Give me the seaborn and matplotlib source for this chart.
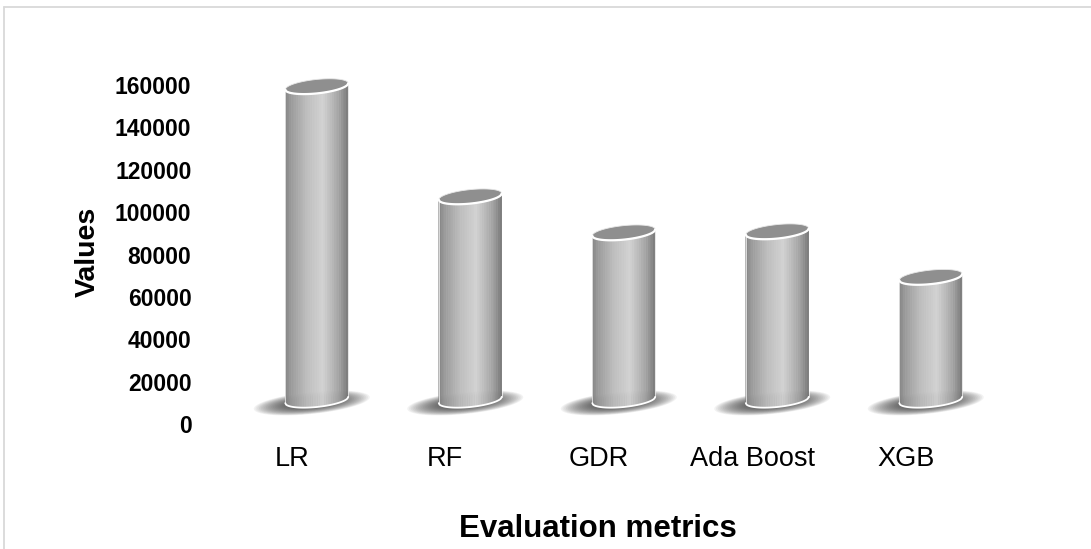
import numpy as np
import pandas as pd
import matplotlib
matplotlib.use("Agg")
import matplotlib.pyplot as plt
import seaborn as sns
from matplotlib.collections import PolyCollection
from matplotlib.patches import Polygon
from matplotlib.lines import Line2D
from matplotlib.transforms import IdentityTransform

# ---- data ----
models = ["LR", "RF", "GDR", "Ada Boost", "XGB"]
values = [148000, 96000, 79000, 79500, 58000]
y_ticks = [0, 20000, 40000, 60000, 80000, 100000, 120000, 140000, 160000]

sns.set_theme(style="white")
plt.rcParams["font.family"] = ["Liberation Sans", "DejaVu Sans"]

W, H, DPI = 1091, 549, 100
fig = plt.figure(figsize=(W / DPI, H / DPI), dpi=DPI)
fig.patch.set_facecolor("white")

# plot area in pixels
ax_left, ax_bottom_px, ax_w, ax_h = 215, 424, 767.5, 339
ax = fig.add_axes([ax_left / W, (H - ax_bottom_px) / H, ax_w / W, ax_h / H])
ax.set_facecolor("white")

df = pd.DataFrame({"model": models, "value": values})
sns.barplot(data=df, x="model", y="value", ax=ax, width=0.41, color="0.7")

ax.set_xlim(-0.5, len(models) - 0.5)
ax.set_ylim(0, 160000)
ax.set_yticks(y_ticks)
ax.set_yticklabels([str(t) for t in y_ticks], fontsize=16.5, fontweight="bold", color="black")
ax.tick_params(axis="y", length=0, pad=17)
ax.tick_params(axis="x", length=0, pad=16, labelsize=19.5, labelcolor="black")
for s in ax.spines.values():
    s.set_visible(False)

ax.set_ylabel("Values", fontsize=20.5, fontweight="bold", color="black")
ax.yaxis.label.set_va("center")
ax.yaxis.set_label_coords((88 - ax_left) / ax_w, (ax_bottom_px - 252) / ax_h)
ax.set_xlabel("Evaluation metrics", fontsize=22.5, fontweight="bold", color="black")
ax.xaxis.label.set_va("center")
ax.xaxis.set_label_coords((598 - ax_left) / ax_w, (ax_bottom_px - 529) / ax_h)

# ---- 3D cylinder rendering of the seaborn bars (oblique depth offset) ----
DX, DY = 25.0, 24.0       # depth offset in pixels
B = 7.0                   # semi-minor axis of the end ellipses (px)
SHEAR = 0.1               # vertical shear giving the tilted ellipse look
ident = IdentityTransform()

stops = [0.0, 0.10, 0.35, 0.60, 0.85, 1.0]
levels = [0.50, 0.60, 0.74, 0.82, 0.64, 0.46]


def arc_y(cx, a, yc, x, upper=False):
    u = np.clip((x - cx) / a, -1, 1)
    sgn = 1 if upper else -1
    return yc + sgn * B * np.sqrt(1 - u ** 2) + SHEAR * a * u


for patch in list(ax.patches):
    x0 = patch.get_x()
    w = patch.get_width()
    h = patch.get_height()
    (px0, py0), (px1, py1) = ax.transData.transform([(x0, 0), (x0 + w, h)])
    patch.set_visible(False)
    px0 += DX; px1 += DX
    yb = py0 + DY
    yt = py1 + DY
    cx = 0.5 * (px0 + px1)
    a = 0.5 * (px1 - px0)

    # soft ground shadow, a stack of translucent ellipses
    t = np.linspace(0, 2 * np.pi, 80)
    for k in range(18):
        f = 1.0 - k * 0.03
        sx = cx - 5 + 58 * f * np.cos(t)
        sy = yb - 3 + 11 * f * np.sin(t) + SHEAR * 58 * f * np.cos(t)
        ax.add_patch(Polygon(np.column_stack([sx, sy]), closed=True,
                             facecolor="#303030", edgecolor="none", alpha=0.06,
                             transform=ident, clip_on=False, zorder=1))

    # body: vertical strips with a horizontal shading profile
    n = 90
    xs = np.linspace(px0, px1, n + 1)
    quads, cols = [], []
    for i in range(n):
        xa, xb = xs[i], xs[i + 1]
        quads.append([(xa, arc_y(cx, a, yb, xa)), (xb, arc_y(cx, a, yb, xb)),
                      (xb, arc_y(cx, a, yt, xb)), (xa, arc_y(cx, a, yt, xa))])
        g = np.interp((i + 0.5) / n, stops, levels)
        cols.append((g, g, g, 1.0))
    pc = PolyCollection(quads, facecolors=cols, edgecolors=cols, linewidths=0.3,
                        transform=ident, clip_on=False, zorder=2)
    ax.add_collection(pc)

    # white rim along the base front edge and the sides
    xr = np.linspace(px0, px1, 80)
    ax.add_line(Line2D(xr, arc_y(cx, a, yb, xr), color="white", lw=1.3,
                       transform=ident, clip_on=False, zorder=3))
    ax.add_line(Line2D([px0, px0], [arc_y(cx, a, yb, px0), arc_y(cx, a, yt, px0)],
                       color="white", lw=0.6, alpha=0.8, transform=ident, clip_on=False, zorder=3))
    ax.add_line(Line2D([px1, px1], [arc_y(cx, a, yb, px1), arc_y(cx, a, yt, px1)],
                       color="white", lw=0.6, alpha=0.8, transform=ident, clip_on=False, zorder=3))

    # top face
    t2 = np.linspace(0, 2 * np.pi, 120)
    tx = cx + a * np.cos(t2)
    ty = yt + B * np.sin(t2) + SHEAR * a * np.cos(t2)
    ax.add_patch(Polygon(np.column_stack([tx, ty]), closed=True,
                         facecolor="#8f8f8f", edgecolor="#e8e8e8", lw=0.6,
                         transform=ident, clip_on=False, zorder=4))
    ax.add_line(Line2D(xr, arc_y(cx, a, yt, xr), color="white", lw=1.6,
                       transform=ident, clip_on=False, zorder=5))

# light chart-area frame (top and left edges)
fig.add_artist(Line2D([3.5 / W, 1.0], [1 - 6.5 / H, 1 - 6.5 / H],
                      transform=fig.transFigure, color="#d9d9d9", lw=1.3))
fig.add_artist(Line2D([3.5 / W, 3.5 / W], [0.0, 1 - 6.5 / H],
                      transform=fig.transFigure, color="#d9d9d9", lw=1.3))

fig.savefig("out.png", dpi=DPI, facecolor="white")
